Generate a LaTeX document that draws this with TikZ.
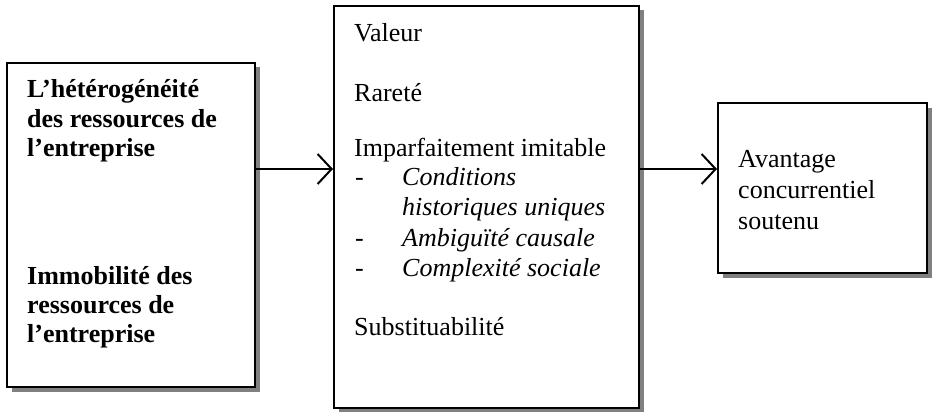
\documentclass[tikz,border=0pt]{standalone}
\usepackage{fontspec}
\setmainfont{Liberation Serif}
\usetikzlibrary{shadows,arrows.meta}
\begin{document}
\begin{tikzpicture}[x=1pt,y=-1pt,
    box/.style={draw,line width=2pt,fill=white,inner sep=0pt,
      drop shadow={shadow xshift=4.5pt,shadow yshift=-4.5pt,fill=black!50,opacity=1}},
    link/.style={line width=2pt,-{Straight Barb[length=14pt,width=30pt,line width=2pt]}}]

    \useasboundingbox (0,0) rectangle (932,412);

    % the boxes
    \node[box,minimum width=248pt,minimum height=324pt] (res) at (131,225) {};
    \node[box,minimum width=305pt,minimum height=402pt] (crit) at (486.5,207) {};
    \node[box,minimum width=209pt,minimum height=170pt] (avant) at (822.5,188) {};

    % the texts
    \tikzstyle{txt}=[anchor=base west,inner sep=0pt,font=\fontsize{26}{30}\selectfont]
    \tikzstyle{btxt}=[txt,font=\fontsize{26}{30}\selectfont\bfseries]
    \tikzstyle{itxt}=[txt,font=\fontsize{26}{30}\selectfont\itshape]

    \node[btxt] (het1) at (27,98) {L’hétérogénéité};
    \node[btxt] (het2) at (27,127) {des ressources de};
    \node[btxt] (het3) at (27,156) {l’entreprise};
    \node[btxt] (imm1) at (27,284) {Immobilité des};
    \node[btxt] (imm2) at (27,313) {ressources de};
    \node[btxt] (imm3) at (27,342) {l’entreprise};

    \node[txt] (val) at (354,42) {Valeur};
    \node[txt] (rar) at (354,102) {Rareté};
    \node[txt] (imp) at (354,156) {Imparfaitement imitable};
    \node[txt] (d1) at (355,185) {-};
    \node[itxt] (cond1) at (402,185) {Conditions};
    \node[itxt] (cond2) at (402,215) {historiques uniques};
    \node[txt] (d2) at (355,246) {-};
    \node[itxt] (amb) at (402,246) {Ambiguïté causale};
    \node[txt] (d3) at (355,276) {-};
    \node[itxt] (comp) at (402,276) {Complexité sociale};
    \node[txt] (sub) at (354,335) {Substituabilité};

    \node[txt] (av1) at (738,167) {Avantage};
    \node[txt] (av2) at (738,198) {concurrentiel};
    \node[txt] (av3) at (738,229) {soutenu};

    % the arrows
    \coordinate (lvl) at (0,169);
    \draw[link] (res.east |- lvl) -- (crit.west |- lvl);
    \draw[link] (crit.east |- lvl) -- (avant.west |- lvl);

  \end{tikzpicture}
\end{document}
